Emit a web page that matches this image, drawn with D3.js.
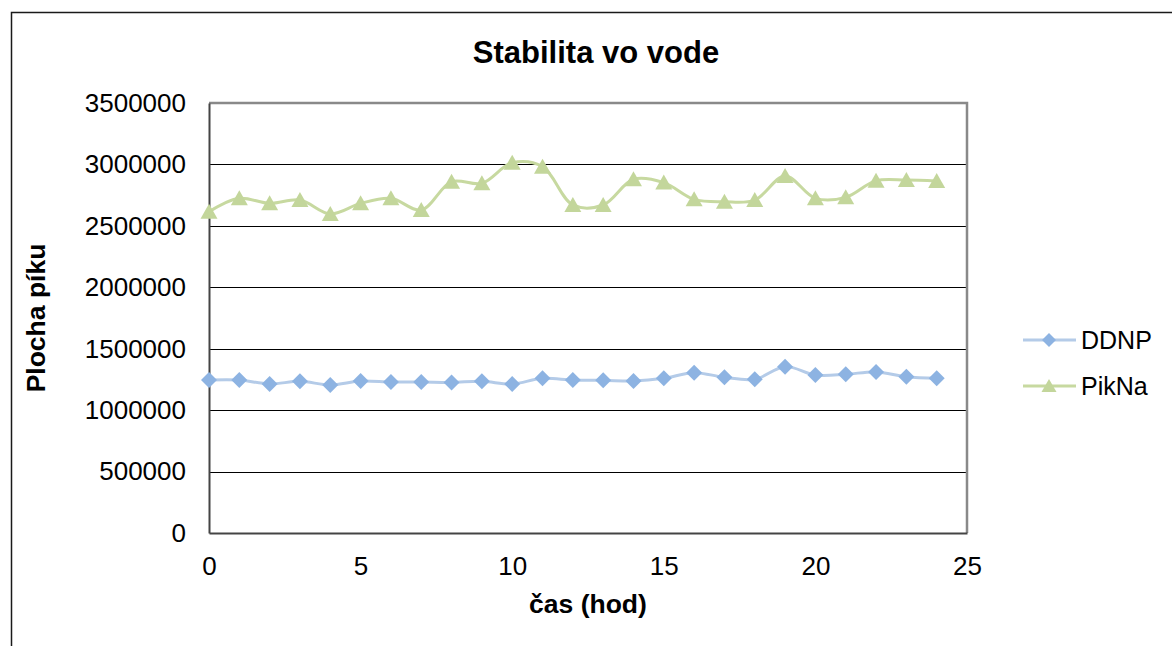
<!DOCTYPE html>
<html lang="sk">
<head>
<meta charset="UTF-8">
<title>Stabilita vo vode</title>
<script src="https://d3js.org/d3.v7.min.js"></script>
<style>
body{margin:0; background:#fff;}
text{font-family:"Liberation Sans", Arial, sans-serif;}
</style>
</head>
<body>
<div id="chart"></div>
<script>
// data
var hours = [0,1,2,3,4,5,6,7,8,9,10,11,12,13,14,15,16,17,18,19,20,21,22,23,24];
var ddnp = [1245000,1245000,1213000,1235000,1205000,1237000,1229000,1229000,1226000,1235000,
            1213000,1259000,1245000,1243000,1237000,1259000,1305000,1267000,1251000,1354000,
            1286000,1292000,1311000,1272000,1259000];
var pikna = [2615000,2724000,2683000,2710000,2597000,2683000,2724000,2629000,2860000,2846000,
             3014000,2982000,2670000,2670000,2879000,2852000,2716000,2697000,2710000,2906000,
             2724000,2732000,2868000,2873000,2865000];
var xTicks = [0,5,10,15,20,25];
var yTicks = [0,500000,1000000,1500000,2000000,2500000,3000000,3500000];

var W = 1172, H = 646;
// plot area edges
var pL = 209, pR = 967, pT = 103, pB = 533;

var svg = d3.select("#chart").append("svg")
	.attr("width", W)
	.attr("height", H);

// outer chart frame (runs off right and bottom)
svg.append("path")
	.attr("d", "M11.5," + H + "V12.5H" + W)
	.attr("fill", "none")
	.attr("stroke", "#1a1a1a")
	.attr("stroke-width", 1.5);

var x = d3.scaleLinear().domain([0, 25]).range([pL, pR]);
var y = d3.scaleLinear().domain([0, 3500000]).range([pB, pT]);

// gridlines
svg.append("g")
	.selectAll("line")
	.data(yTicks.filter(function(d){ return d > 0 && d < 3500000; }))
	.enter()
	.append("line")
	.attr("x1", pL).attr("x2", pR)
	.attr("y1", function(d){ return Math.round(y(d)) + 0.5; })
	.attr("y2", function(d){ return Math.round(y(d)) + 0.5; })
	.attr("stroke", "#000")
	.attr("stroke-width", 1);

// plot area border: top/right grey
svg.append("path")
	.attr("d", "M" + pL + "," + pT + "H" + pR + "V" + pB)
	.attr("fill", "none")
	.attr("stroke", "#898989")
	.attr("stroke-width", 2.5);

// axes
var yAxis = d3.axisLeft(y).tickValues(yTicks).tickSize(0).tickPadding(23)
	.tickFormat(function(d){ return String(d); });
var xAxis = d3.axisBottom(x).tickValues(xTicks).tickSize(0).tickPadding(24);

var gy = svg.append("g").attr("transform", "translate(" + pL + ",0)").call(yAxis);
var gx = svg.append("g").attr("transform", "translate(0," + pB + ")").call(xAxis);
[gy, gx].forEach(function(g){
	g.attr("font-size", null).attr("font-family", null);
	g.select(".domain").attr("stroke", "#444").attr("stroke-width", 2);
	g.selectAll("text").attr("font-size", "26px").attr("fill", "#000");
});

// title and axis titles
svg.append("text")
	.attr("x", 596).attr("y", 63)
	.attr("text-anchor", "middle")
	.attr("font-size", "31px").attr("font-weight", "bold")
	.text("Stabilita vo vode");

svg.append("text")
	.attr("x", 588).attr("y", 613)
	.attr("text-anchor", "middle")
	.attr("font-size", "26.5px").attr("font-weight", "bold")
	.text("čas (hod)");

svg.append("text")
	.attr("transform", "translate(45,318) rotate(-90)")
	.attr("text-anchor", "middle")
	.attr("font-size", "26.5px").attr("font-weight", "bold")
	.text("Plocha píku");

var series = [
	{name: "DDNP", values: ddnp, line: "#b4cbe8", fill: "#8db3e2", shape: "diamond"},
	{name: "PikNa", values: pikna, line: "#c7d9a0", fill: "#c3d69b", shape: "triangle"}
];

var line = d3.line()
	.x(function(d, i){ return x(hours[i]); })
	.y(function(d){ return y(d); })
	.curve(d3.curveCatmullRom.alpha(0.5));

function marker(s, r){
	if (s.shape === "diamond") {
		return "M0," + (-r) + "L" + r + ",0L0," + r + "L" + (-r) + ",0Z";
	}
	return "M0," + (-r) + "L" + (r + 0.5) + "," + (r - 1) + "L" + (-r - 0.5) + "," + (r - 1) + "Z";
}

series.forEach(function(s){
	svg.append("path")
		.datum(s.values)
		.attr("d", line)
		.attr("fill", "none")
		.attr("stroke", s.line)
		.attr("stroke-width", 3);

	svg.append("g")
		.selectAll("path")
		.data(s.values)
		.enter()
		.append("path")
		.attr("transform", function(d, i){ return "translate(" + x(hours[i]) + "," + y(d) + ")"; })
		.attr("d", marker(s, 8))
		.attr("fill", s.fill);
});

// legend
var legend = svg.append("g");
series.forEach(function(s, i){
	var ly = 340 + i * 46;
	legend.append("line")
		.attr("x1", 1023).attr("x2", 1076)
		.attr("y1", ly).attr("y2", ly)
		.attr("stroke", s.line).attr("stroke-width", 3);
	legend.append("path")
		.attr("transform", "translate(1049," + ly + ")")
		.attr("d", marker(s, 7))
		.attr("fill", s.fill);
	legend.append("text")
		.attr("x", 1081).attr("y", ly + 9)
		.attr("font-size", "25px")
		.text(s.name);
});
</script>
</body>
</html>
